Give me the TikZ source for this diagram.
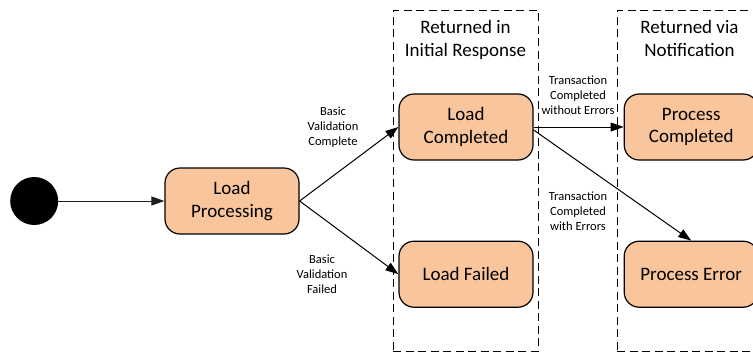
\documentclass[tikz,border=0pt]{standalone}
\usepackage{fontspec}
\setmainfont{Carlito}
\usepackage{xcolor}
\usepackage{tikz}
\usetikzlibrary{arrows.meta,positioning,shapes.geometric}
\definecolor{statefill}{RGB}{248,197,156}
\definecolor{edgegray}{RGB}{30,30,30}

\begin{document}
\begin{tikzpicture}[
        x=1pt, y=-1pt,
        >={Triangle[length=13pt,width=9pt]},
        state/.style={rectangle, rounded corners=15pt, draw=black, line width=1.2pt,
            fill=statefill, minimum width=134pt, minimum height=66pt, inner sep=0pt,
            align=center, font=\fontsize{19}{22.5}\selectfont},
        start/.style={circle, fill=black, minimum size=48pt, inner sep=0pt},
        frame/.style={rectangle, draw=black, dash pattern=on 8pt off 4.5pt, line width=1pt,
            minimum width=145pt, minimum height=341pt, inner sep=0pt},
        title/.style={align=center, font=\fontsize{19}{23}\selectfont},
        lbl/.style={align=center, font=\fontsize{12.5}{15}\selectfont}
    ]
        \useasboundingbox (0,0) rectangle (753,354);

        % groups
        \node[frame] (resp) at (465.5,180.5) {};
        \node[frame] (notif) at (689.5,180.5) {};
        \node[title, below=7pt of resp.north] (resptitle) {Returned in\\Initial Response};
        \node[title, below=7pt of notif.north] (notiftitle) {Returned via\\Notification};

        % states
        \node[state] (proc) at (232,201) {Load\\Processing};
        \node[start, left=106pt of proc] (init) {};
        \node[state] (loaddone) at (466,127) {Load\\Completed};
        \node[state, below=80pt of loaddone] (loadfail) {Load Failed};
        \node[state, right=90pt of loaddone] (procdone) {Process\\Completed};
        \node[state, below=80pt of procdone] (procerr) {Process Error};

        % transitions
        \draw[->, line width=1pt, edgegray] (init) -- (proc);
        \draw[->, line width=1pt] (proc.east) -- (loaddone.west);
        \draw[->, line width=1pt] (proc.east) -- (loadfail.west);
        \draw[->, line width=1pt] (loaddone.east) -- (procdone.west);
        \draw[->, line width=1pt] ([yshift=-3pt]loaddone.east) -- (procerr.north);

        \node[lbl] (okl) at (333,127) {Basic\\Validation\\Complete};
        \node[lbl] (faill) at (322,274) {Basic\\Validation\\Failed};
        \node[lbl] (noerrl) at (578,95) {Transaction\\Completed\\without Errors};
        \node[lbl] (errl) at (578,211) {Transaction\\Completed\\with Errors};
    \end{tikzpicture}
\end{document}
